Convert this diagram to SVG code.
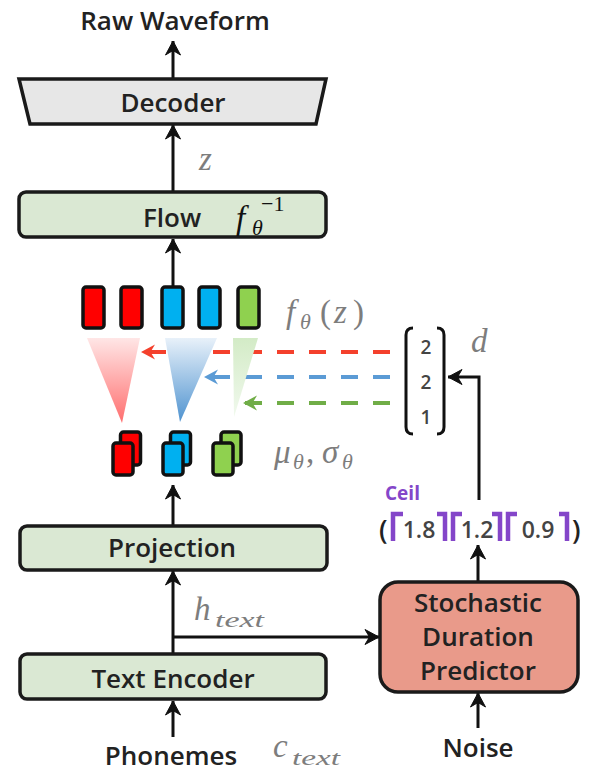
<svg xmlns="http://www.w3.org/2000/svg" width="597" height="772" viewBox="0 0 597 772">
  <defs>
    <style>
      .lbl { font-family: "Open Sans", "Liberation Sans", sans-serif; font-weight: 600; fill: #222; text-anchor: middle; font-size: 26px; }
      .math { font-family: "Liberation Serif", "DejaVu Serif", serif; font-style: italic; fill: #7d7d7d; font-size: 33px; }
      .sub { font-size: 22px; }
      .up { font-style: normal; }
      .box { stroke: #1a1a1a; stroke-width: 3.5; }
      .green { fill: #dae8d3; }
      .wire { fill: none; stroke: #111; stroke-width: 3; }
      .cell { stroke: #111; stroke-width: 3.5; }
      .dash { fill: none; stroke-width: 4; stroke-dasharray: 17 15; }
      .ceil { fill: none; stroke: #8446c9; stroke-width: 4.5; }
      .num { font-family: "Open Sans", "Liberation Sans", sans-serif; font-weight: 600; fill: #444; text-anchor: middle; }
    </style>
    <marker id="ah" markerUnits="userSpaceOnUse" markerWidth="20" markerHeight="20" viewBox="-16 -10 20 20" refX="0" refY="0" orient="auto">
      <path d="M0,0 L-14,-7.5 L-9.5,0 L-14,7.5 Z" fill="#111" stroke="#111" stroke-width="1" stroke-linejoin="round"/>
    </marker>
    <marker id="ah-red" markerUnits="userSpaceOnUse" markerWidth="20" markerHeight="20" viewBox="-16 -10 20 20" refX="0" refY="0" orient="auto">
      <path d="M0,0 L-14,-7.5 L-9.5,0 L-14,7.5 Z" fill="#f4402c"/>
    </marker>
    <marker id="ah-blue" markerUnits="userSpaceOnUse" markerWidth="20" markerHeight="20" viewBox="-16 -10 20 20" refX="0" refY="0" orient="auto">
      <path d="M0,0 L-14,-7.5 L-9.5,0 L-14,7.5 Z" fill="#5b9bd5"/>
    </marker>
    <marker id="ah-green" markerUnits="userSpaceOnUse" markerWidth="20" markerHeight="20" viewBox="-16 -10 20 20" refX="0" refY="0" orient="auto">
      <path d="M0,0 L-14,-7.5 L-9.5,0 L-14,7.5 Z" fill="#70ad47"/>
    </marker>
    <linearGradient id="fadeRed" x1="0" y1="0" x2="0" y2="1">
      <stop offset="0" stop-color="#ffe6e6"/>
      <stop offset="1" stop-color="#ff6e6e"/>
    </linearGradient>
    <linearGradient id="fadeBlue" x1="0" y1="0" x2="0" y2="1">
      <stop offset="0" stop-color="#e8f1fa"/>
      <stop offset="1" stop-color="#4f93d0"/>
    </linearGradient>
    <linearGradient id="fadeGreen" x1="0" y1="0" x2="0" y2="1">
      <stop offset="0" stop-color="#d3ebc6"/>
      <stop offset="1" stop-color="#f1f9ee"/>
    </linearGradient>
  </defs>

  <rect width="597" height="772" fill="#fff"/>

  <!-- connectors -->
  <g id="connectors">
    <line class="wire" x1="173" y1="79" x2="173" y2="41" marker-end="url(#ah)"/>
    <line class="wire" x1="173" y1="192" x2="173" y2="125" marker-end="url(#ah)"/>
    <line class="wire" x1="173" y1="287" x2="173" y2="239" marker-end="url(#ah)"/>
    <line class="wire" x1="173" y1="526" x2="173" y2="485" marker-end="url(#ah)"/>
    <line class="wire" x1="173" y1="654" x2="173" y2="571" marker-end="url(#ah)"/>
    <line class="wire" x1="173" y1="637" x2="379" y2="637" marker-end="url(#ah)"/>
    <line class="wire" x1="173" y1="737" x2="173" y2="701" marker-end="url(#ah)"/>
    <line class="wire" x1="478" y1="728" x2="478" y2="693" marker-end="url(#ah)"/>
    <line class="wire" x1="478" y1="582" x2="478" y2="545" marker-end="url(#ah)"/>
    <polyline class="wire" points="479,500 479,377 448,377" marker-end="url(#ah)"/>
    <line class="dash" stroke="#f4402c" x1="390" y1="352" x2="141" y2="352" marker-end="url(#ah-red)"/>
    <line class="dash" stroke="#5b9bd5" x1="390" y1="377" x2="204" y2="377" marker-end="url(#ah-blue)"/>
    <line class="dash" stroke="#70ad47" x1="390" y1="403" x2="243" y2="403" marker-end="url(#ah-green)"/>
  </g>

  <g id="raw-waveform">
    <text class="lbl" x="175" y="30">Raw Waveform</text>
  </g>

  <g id="decoder">
    <polygon class="box" points="19,79 326,79 316,124 30,124" fill="#e7e7e7"/>
    <text class="lbl" x="173" y="112">Decoder</text>
  </g>

  <g id="z-label">
    <text class="math" x="199" y="170">z</text>
  </g>

  <g id="flow">
    <rect class="box green" x="19" y="192" width="307" height="45" rx="7"/>
    <text class="lbl" x="172" y="227">Flow</text>
    <text class="math" style="fill:#111"><tspan x="236" y="229">f</tspan><tspan class="sub" x="252" y="235">θ</tspan></text>
    <text class="math sub up" style="fill:#111" x="261" y="211">−1</text>
  </g>

  <!-- latent frames f_theta(z) -->
  <g id="latent-frames">
    <rect class="cell" x="83" y="287" width="21" height="41" rx="3" fill="#ff0000"/>
    <rect class="cell" x="121" y="287" width="21" height="41" rx="3" fill="#ff0000"/>
    <rect class="cell" x="162" y="287" width="21" height="41" rx="3" fill="#00b0f0"/>
    <rect class="cell" x="199" y="287" width="21" height="41" rx="3" fill="#00b0f0"/>
    <rect class="cell" x="238" y="287" width="21" height="41" rx="3" fill="#8fd14f"/>
    <text class="math"><tspan x="286" y="323">f</tspan><tspan class="sub" x="300" y="329">θ</tspan><tspan class="up" x="320" y="323">(</tspan><tspan x="334" y="323">z</tspan><tspan class="up" x="353" y="323">)</tspan></text>
  </g>

  <!-- alignment fans -->
  <g id="alignment">
    <polygon points="87,338 140,338 122,423" fill="url(#fadeRed)"/>
    <polygon points="165,338 217,338 180,422" fill="url(#fadeBlue)"/>
    <polygon points="233,338 258,338 234,417" fill="url(#fadeGreen)"/>
  </g>

  <!-- prior statistics mu, sigma -->
  <g id="prior-stats">
    <rect class="cell" x="120.5" y="432" width="20" height="33" rx="3" fill="#ff0000"/>
    <rect class="cell" x="113" y="443" width="20" height="32" rx="3" fill="#ff0000"/>
    <rect class="cell" x="170.5" y="432" width="20" height="33" rx="3" fill="#00b0f0"/>
    <rect class="cell" x="163" y="443" width="20" height="32" rx="3" fill="#00b0f0"/>
    <rect class="cell" x="221" y="432" width="20" height="33" rx="3" fill="#8fd14f"/>
    <rect class="cell" x="213" y="443" width="20" height="32" rx="3" fill="#8fd14f"/>
    <text class="math"><tspan x="274" y="463">μ</tspan><tspan class="sub" x="293" y="469">θ</tspan><tspan class="up" x="306" y="463">,</tspan><tspan x="322" y="463">σ</tspan><tspan class="sub" x="342" y="469">θ</tspan></text>
  </g>

  <!-- duration vector d -->
  <g id="durations">
    <path class="wire" d="M413,328 Q406,328 406,335 L406,427 Q406,434 413,434"/>
    <path class="wire" d="M437,328 Q444,328 444,335 L444,427 Q444,434 437,434"/>
    <text class="num" x="426" y="354" font-size="19">2</text>
    <text class="num" x="426" y="389" font-size="19">2</text>
    <text class="num" x="426" y="424" font-size="19">1</text>
    <text class="math" x="471" y="352">d</text>
  </g>

  <!-- rounded-up durations -->
  <g id="ceil">
    <text x="385" y="500" font-family="Open Sans, Liberation Sans, sans-serif" font-weight="700" font-size="19" fill="#8446c9">Ceil</text>
    <text x="379" y="539" font-family="Open Sans, Liberation Sans, sans-serif" font-weight="600" font-size="27" fill="#222">(</text>
    <text x="572" y="539" font-family="Open Sans, Liberation Sans, sans-serif" font-weight="600" font-size="27" fill="#222">)</text>
    <path class="ceil" d="M403,514 L393,514 L393,541"/>
    <path class="ceil" d="M437,514 L445,514 L445,541"/>
    <path class="ceil" d="M462,514 L453,514 L453,541"/>
    <path class="ceil" d="M492,514 L500,514 L500,541"/>
    <path class="ceil" d="M517,514 L508,514 L508,541"/>
    <path class="ceil" d="M559,514 L567,514 L567,541"/>
    <text class="num" x="419" y="538" font-size="23">1.8</text>
    <text class="num" x="477" y="538" font-size="23">1.2</text>
    <text class="num" x="538" y="538" font-size="23">0.9</text>
  </g>

  <g id="projection">
    <rect class="box green" x="20" y="526" width="307" height="44" rx="7"/>
    <text class="lbl" x="172" y="557">Projection</text>
  </g>

  <g id="h-text-label">
    <text class="math"><tspan x="194" y="620">h</tspan><tspan class="sub" x="215" y="627" textLength="49" lengthAdjust="spacingAndGlyphs">text</tspan></text>
  </g>

  <g id="text-encoder">
    <rect class="box green" x="20" y="654" width="306" height="45" rx="7"/>
    <text class="lbl" x="173" y="688">Text Encoder</text>
  </g>

  <g id="duration-predictor">
    <rect class="box" x="380" y="582" width="198" height="110" rx="18" fill="#e99a8a"/>
    <text class="lbl" x="478" y="612">Stochastic</text>
    <text class="lbl" x="478" y="646">Duration</text>
    <text class="lbl" x="478" y="680">Predictor</text>
  </g>

  <g id="phonemes">
    <text class="lbl" x="171" y="765">Phonemes</text>
    <text class="math"><tspan x="273" y="757">c</tspan><tspan class="sub" x="292" y="765" textLength="48" lengthAdjust="spacingAndGlyphs">text</tspan></text>
  </g>

  <g id="noise">
    <text class="lbl" x="478" y="757">Noise</text>
  </g>
</svg>
